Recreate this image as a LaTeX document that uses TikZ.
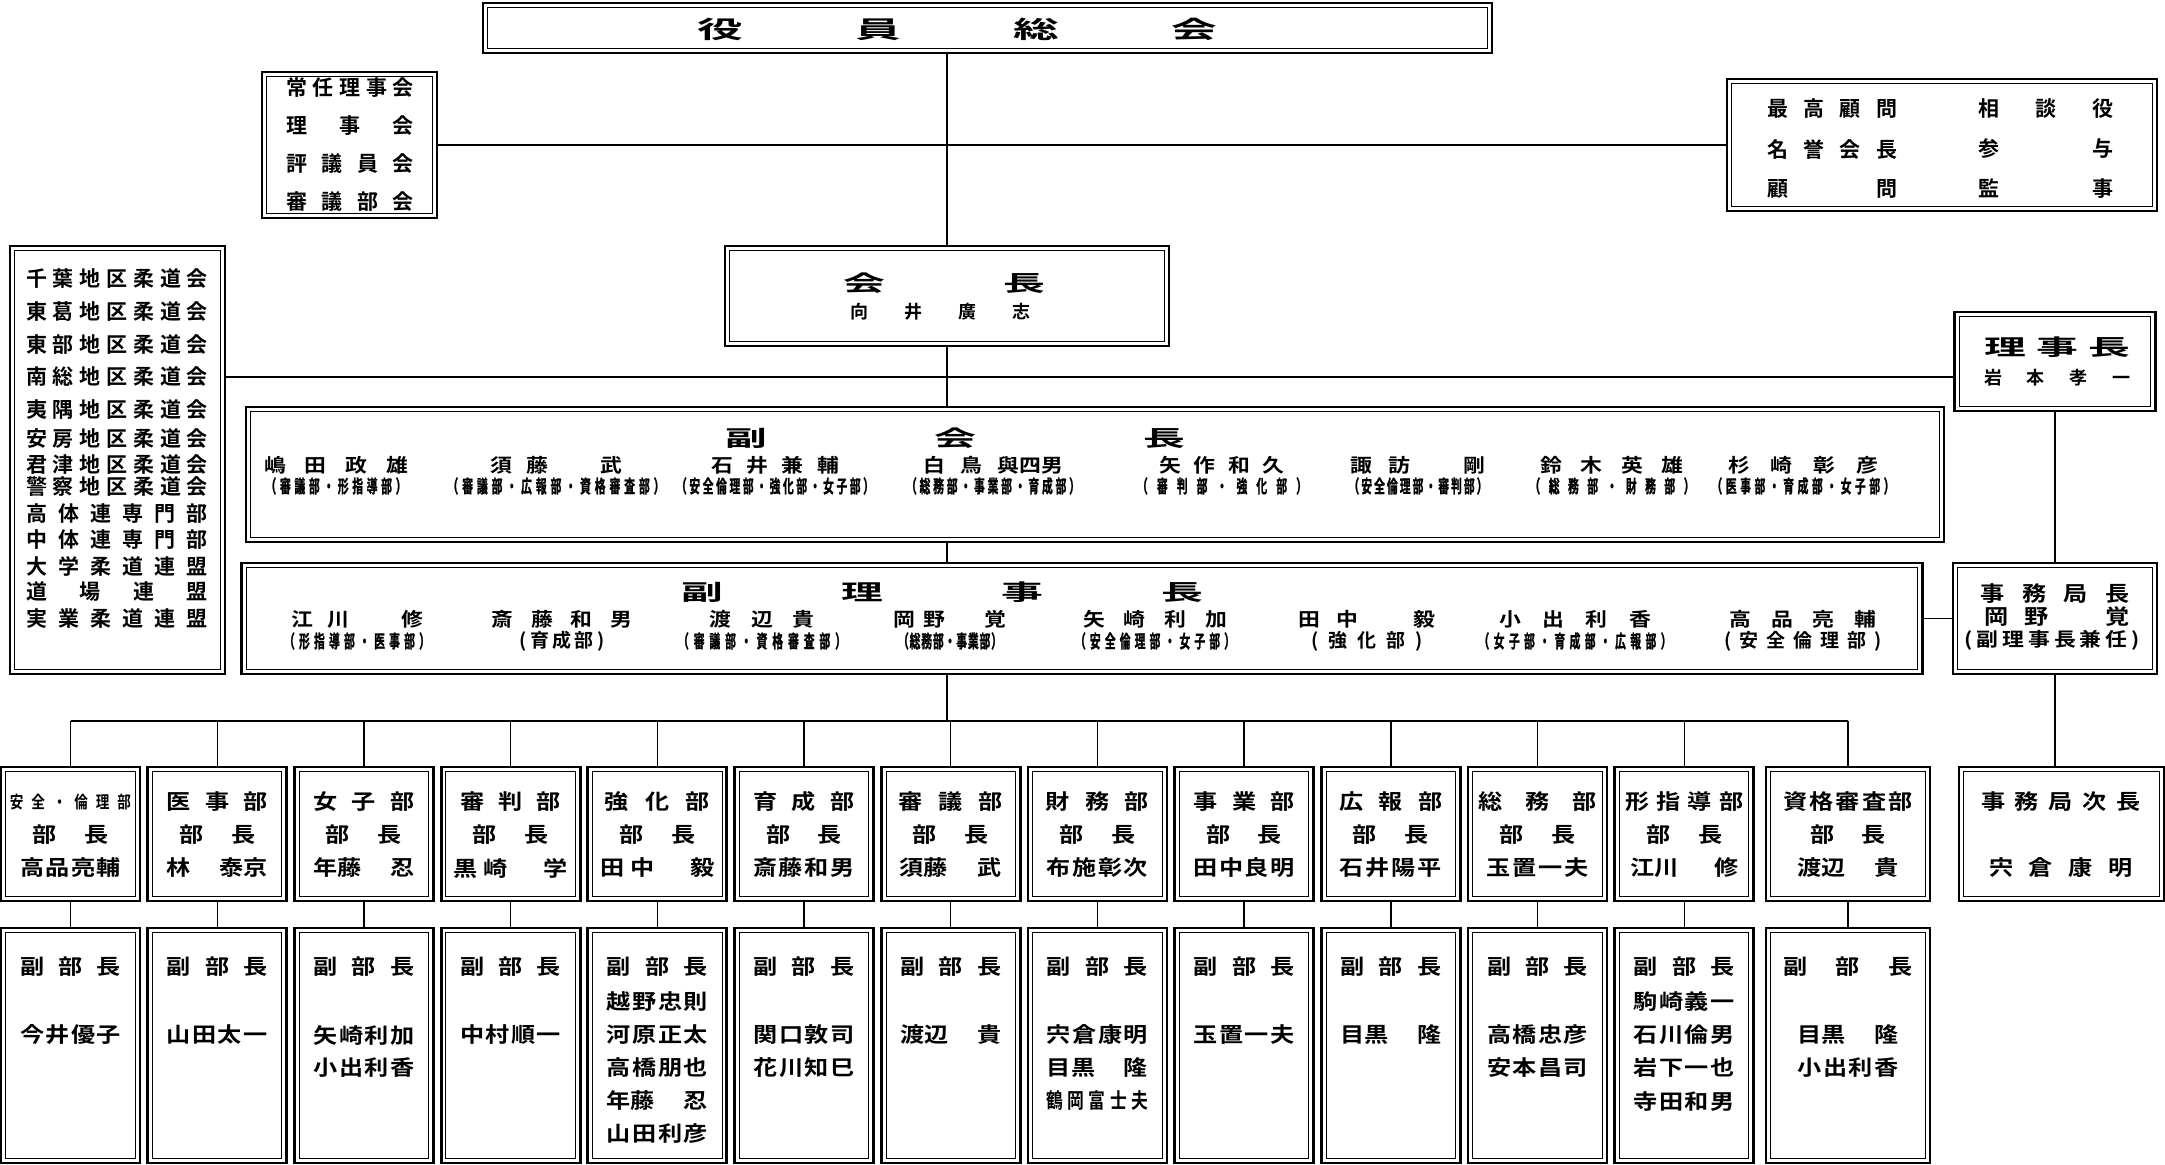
\documentclass[tikz,border=0pt]{standalone}
\usepackage{fontspec}
\setmainfont{Noto Sans CJK JP Bold}
\newfontfamily\jp{Noto Sans CJK JP Bold}
\newfontfamily\jpwide{Noto Sans CJK JP Bold}[FakeStretch=1.9]
\newfontfamily\jpmid{Noto Sans CJK JP Bold}[FakeStretch=1.15]
\newfontfamily\jpnarrow{Noto Sans CJK JP Bold}[FakeStretch=0.8]
\newfontfamily\jpslim{Noto Sans CJK JP Bold}[FakeStretch=0.6, FakeBold=1]

\begin{document}
\begin{tikzpicture}[x = 0.5pt, y = -0.5pt,
		every node/.style = {inner sep = 0pt, execute at begin node = {\spaceskip 0pt plus 1fil}},
		dbox/.style = {draw, line width = 1.4pt, path picture = {\draw [line width = 0.5pt] ([shift = {(2.4pt,-2.4pt)}] path picture bounding box.north west) rectangle ([shift = {(-2.4pt,2.4pt)}] path picture bounding box.south east);}},
		headline/.style = {font = \jpwide\fontsize{12}{14}\selectfont},
		rank/.style = {font = \jpwide\fontsize{11}{13}\selectfont},
		person/.style = {font = \jp\fontsize{9}{11}\selectfont},
		member/.style = {font = \jpmid\fontsize{9.5}{11}\selectfont},
		duty/.style = {font = \jpslim\fontsize{9}{10}\selectfont},
		cell/.style = {font = \jpmid\fontsize{10.5}{12}\selectfont},
		roster/.style = {font = \jp\fontsize{10.5}{12}\selectfont},
		hconn/.style = {line width = 1.4pt},
		vconn/.style = {line width = 0.7pt},
		busline/.style = {line width = 1pt}]

	\useasboundingbox (0,0) rectangle (2165,1165);

	\node [dbox, minimum width = 504.5pt, minimum height = 25pt] (soukai) at (987.5,28) {};
	\node [headline] (soukai-t) at (957,29) {\makebox[260pt][s]{役 員 総 会}};

	\node [dbox, minimum width = 87.5pt, minimum height = 73pt] (council) at (349.5,145) {};
	\foreach \y/\txt [count=\i] in {88/{常 任 理 事 会}, 126/{理 事 会}, 164/{評 議 員 会}, 202/{審 議 部 会}}
	{
		\node [roster] (council-\i) at (350,\y) {\makebox[64pt][s]{\txt}};
	}

	\node [dbox, minimum width = 215pt, minimum height = 66pt] (advisors) at (1942,145) {};
	\foreach \y/\left/\right [count=\i] in {109/{最 高 顧 問}/{相 談 役}, 149/{名 誉 会 長}/{参 与}, 189/{顧 問}/{監 事}}
	{
		\node [roster] (advisors-l\i) at (1832,\y) {\makebox[65pt][s]{\left}};
		\node [roster] (advisors-r\i) at (2046,\y) {\makebox[67.5pt][s]{\right}};
	}

	\node [dbox, minimum width = 107.5pt, minimum height = 214pt] (districts) at (117.5,460) {};
	\foreach \y/\txt [count=\i] in {279/{千 葉 地 区 柔 道 会}, 312/{東 葛 地 区 柔 道 会}, 345/{東 部 地 区 柔 道 会}, 377/{南 総 地 区 柔 道 会}, 410/{夷 隅 地 区 柔 道 会}, 439/{安 房 地 区 柔 道 会}, 465/{君 津 地 区 柔 道 会}, 487/{警 察 地 区 柔 道 会}, 514/{高 体 連 専 門 部}, 540/{中 体 連 専 門 部}, 566/{大 学 柔 道 連 盟}, 592/{道 場 連 盟}, 619/{実 業 柔 道 連 盟}}
	{
		\node [roster] (districts-\i) at (117,\y) {\makebox[91pt][s]{\txt}};
	}

	\node [dbox, minimum width = 222pt, minimum height = 50pt] (president) at (947,296) {};
	\node [rank] (president-t) at (944,283) {\makebox[101pt][s]{会 長}};
	\node [person] (president-n) at (940,312) {\makebox[90pt][s]{向 井 廣 志}};

	\node [dbox, minimum width = 100.5pt, minimum height = 49.5pt] (chairman) at (2055,361.5) {};
	\node [rank] (chairman-t) at (2057,347) {\makebox[73pt][s]{理 事 長}};
	\node [person] (chairman-n) at (2057,378) {\makebox[73pt][s]{岩 本 孝 一}};

	\node [dbox, minimum width = 849pt, minimum height = 67.5pt] (vicepres) at (1095,474.5) {};
	\node [rank] (vicepres-t) at (955,438) {\makebox[230pt][s]{副 会 長}};
	\foreach \x/\nw/\who/\dw/\what [count=\i] in {
		336/72pt/{嶋 田 政 雄}/70.5pt/{（ 審 議 部 ・ 形 指 導 部 ）},
		556/66pt/{須 藤 　 武}/108.5pt/{（ 審 議 部 ・ 広 報 部 ・ 資 格 審 査 部 ）},
		775/64pt/{石 井 兼 輔}/99pt/{（ 安 全 倫 理 部 ・ 強 化 部 ・ 女 子 部 ）},
		993/70pt/{白 鳥 與四男}/87pt/{（ 総 務 部 ・ 事 業 部 ・ 育 成 部 ）},
		1222/62.5pt/{矢 作 和 久}/85pt/{（ 審 判 部 ・ 強 化 部 ）},
		1418/67.5pt/{諏 訪 　 剛}/69.5pt/{（ 安 全 倫 理 部 ・ 審 判 部 ）},
		1612/71.5pt/{鈴 木 英 雄}/82.5pt/{（ 総 務 部 ・ 財 務 部 ）},
		1803/75pt/{杉 崎 彰 彦}/91.5pt/{（ 医 事 部 ・ 育 成 部 ・ 女 子 部 ）}}
	{
		\node [member] (vp\i) at (\x,465) {\makebox[\nw][s]{\who}};
		\node [duty] (vp\i-duty) at (\x,486) {\makebox[\dw][s]{\what}};
	}

	\node [dbox, minimum width = 840.5pt, minimum height = 55.5pt] (vicechair) at (1082,618.5) {};
	\node [rank] (vicechair-t) at (942,592) {\makebox[261pt][s]{副 理 事 長}};
	\foreach \x/\nw/\who/\dw/\what [count=\i] in {
		357/66pt/{江 川 　 修}/73pt/{（ 形 指 導 部 ・ 医 事 部 ）},
		562/70.5pt/{斎 藤 和 男}/42.5pt/{\jp\fontsize{9.5}{10}\selectfont ( 育 成 部 )},
		762/52.5pt/{渡 辺 貴}/84pt/{（ 審 議 部 ・ 資 格 審 査 部 ）},
		950/56.5pt/{岡 野 　 覚}/52pt/{（ 総 務 部 ・ 事 業 部 ）},
		1155/72pt/{矢 崎 利 加}/80pt/{（ 安 全 倫 理 部 ・ 女 子 部 ）},
		1367/68.5pt/{田 中 　 毅}/56pt/{\jp\fontsize{9.5}{10}\selectfont ( 強 化 部 )},
		1575/76pt/{小 出 利 香}/96.5pt/{（ 女 子 部 ・ 育 成 部 ・ 広 報 部 ）},
		1803/73.5pt/{高 品 亮 輔}/79pt/{\jp\fontsize{9.5}{10}\selectfont ( 安 全 倫 理 部 )}}
	{
		\node [member] (vc\i) at (\x,619) {\makebox[\nw][s]{\who}};
		\node [duty] (vc\i-duty) at (\x,641) {\makebox[\dw][s]{\what}};
	}

	\node [dbox, minimum width = 102pt, minimum height = 55.5pt] (secgen) at (2055,618.5) {};
	\node [cell] (secgen-t) at (2055,594) {\makebox[74.5pt][s]{事 務 局 長}};
	\node [cell] (secgen-n) at (2057,617) {\makebox[72.5pt][s]{岡 野 　 覚}};
	\node [member] (secgen-d) at (2052,640) {\makebox[88pt][s]{( 副 理 事 長 兼 任 )}};

	\foreach \x/\w/\tw/\ttl/\nw/\boss [count=\i] in {
		70.5/69.5pt/60.5pt/{\jpnarrow\fontsize{8.5}{10}\selectfont 安 全 ・ 倫 理 部}/50.5pt/{高 品 亮 輔},
		217.2/69.5pt/50.5pt/{医 事 部}/50.5pt/{林 泰京},
		363.9/69.5pt/50.5pt/{女 子 部}/50.5pt/{年藤 忍},
		510.6/69.5pt/50.5pt/{審 判 部}/57pt/{黒 崎 　 学},
		657.3/69.5pt/52.5pt/{強 化 部}/57pt/{田 中 　 毅},
		804/69.5pt/51pt/{育 成 部}/51pt/{斎 藤 和 男},
		950.7/69.5pt/52pt/{審 議 部}/51pt/{須藤 武},
		1097.4/69.5pt/51.5pt/{財 務 部}/50.5pt/{布 施 彰 次},
		1244.1/69.5pt/51pt/{事 業 部}/50.5pt/{田 中 良 明},
		1390.8/69.5pt/51.5pt/{広 報 部}/51pt/{石 井 陽 平},
		1537.5/69.5pt/59pt/{総 務 部}/51pt/{玉 置 一 夫},
		1684.2/69.5pt/59pt/{形 指 導 部}/54pt/{江川 修},
		1848/82pt/64.5pt/{資 格 審 査 部}/51pt/{渡辺 貴}}
	{
		\node [dbox, minimum width = \w, minimum height = 67pt] (d\i) at (\x,834) {};
		\node [cell] (d\i-t) at (\x,802) {\makebox[\tw][s]{\ttl}};
		\node [cell] (d\i-r) at (\x,835) {\makebox[38pt][s]{部 長}};
		\node [cell] (d\i-n) at (\x,868) {\makebox[\nw][s]{\boss}};
	}

	\node [dbox, minimum width = 102.5pt, minimum height = 67pt] (subsec) at (2061.5,834) {};
	\node [cell] (subsec-t) at (2061,802) {\makebox[80pt][s]{事 務 局 次 長}};
	\node [cell] (subsec-n) at (2061,868) {\makebox[72pt][s]{宍 倉 康 明}};

	\foreach \x/\w/\hw/\first/\names [count=\i] in {
		70.5/69.5pt/50.5pt/2/{今 井 優 子},
		217.2/69.5pt/50.5pt/2/{山 田 太 一},
		363.9/69.5pt/50.5pt/2/{矢 崎 利 加, 小 出 利 香},
		510.6/69.5pt/50.5pt/2/{中 村 順 一},
		657.3/69.5pt/50.5pt/1/{越 野 忠 則, 河 原 正 太, 高 橋 朋 也, 年藤 忍, 山 田 利 彦},
		804/69.5pt/50.5pt/2/{関 口 敦 司, 花 川 知 巳},
		950.7/69.5pt/50.5pt/2/{渡辺 貴},
		1097.4/69.5pt/50.5pt/2/{宍 倉 康 明, 目黒 隆, {\jpnarrow 鶴 岡 富 士 夫}},
		1244.1/69.5pt/50.5pt/2/{玉 置 一 夫},
		1390.8/69.5pt/50.5pt/2/{目黒 隆},
		1537.5/69.5pt/50.5pt/2/{高 橋 忠 彦, 安 本 昌 司},
		1684.2/69.5pt/50.5pt/1/{駒 崎 義 一, 石 川 倫 男, 岩 下 一 也, 寺 田 和 男},
		1848/82pt/65pt/2/{目黒 隆, 小 出 利 香}}
	{
		\node [dbox, minimum width = \w, minimum height = 117.5pt] (s\i) at (\x,1045.5) {};
		\node [cell] (s\i-t) at (\x,967) {\makebox[\hw][s]{副 部 長}};
		\foreach \nm [count=\k from \first] in \names
		{
			\node [cell] (s\i-\k) at (\x,{969+33*\k}) {\makebox[50.5pt][s]{\nm}};
		}
	}

	\coordinate (link) at (947,377);
	\coordinate (bus) at (947,721);

	\draw [vconn] (president.north |- soukai.south) -- (president.north);
	\draw [hconn] (council.east) -- (advisors.west);
	\draw [vconn] (president.south) -- (president.south |- vicepres.north);
	\draw [hconn] (link -| districts.east) -- (link -| chairman.west);
	\draw [vconn] (president.south |- vicepres.south) -- (president.south |- vicechair.north);
	\draw [vconn] (president.south |- vicechair.south) -- (bus);
	\draw [busline] (d1.north |- bus) -- (d13.north |- bus);
	\foreach \i in {1,...,13}
	{
		\draw [vconn] (d\i.north |- bus) -- (d\i.north);
		\draw [vconn] (d\i.south) -- (s\i.north);
	}
	\draw [vconn] (chairman.south) -- (chairman.south |- secgen.north);
	\draw [vconn] (secgen.south) -- (secgen.south |- subsec.north);
	\draw [vconn] (vicechair.east) -- (secgen.west);
\end{tikzpicture}
\end{document}
